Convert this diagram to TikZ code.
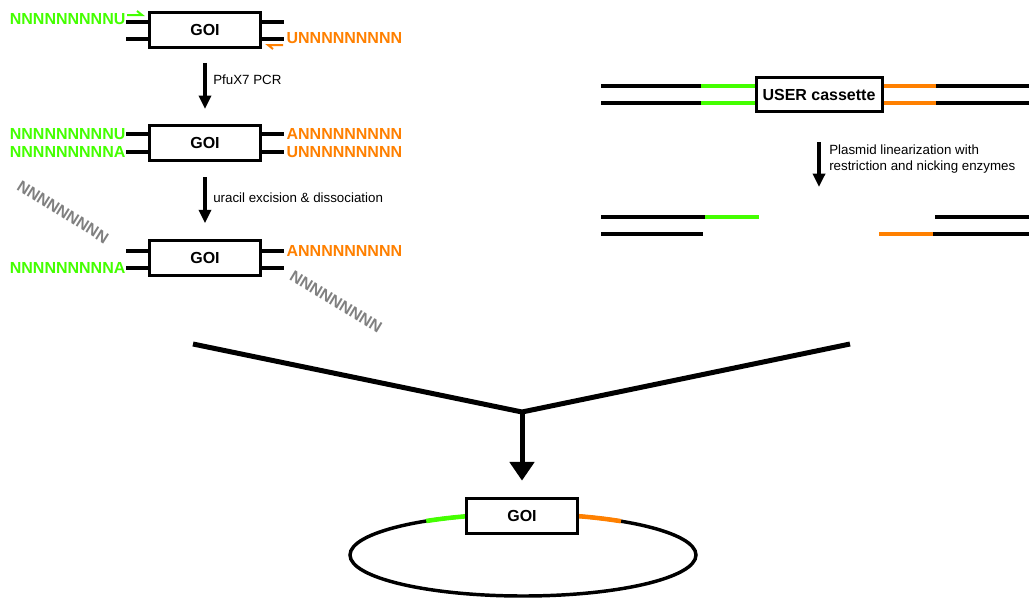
\documentclass[tikz,border=0pt]{standalone}
\usepackage{fontspec}
\setmainfont{Liberation Sans}
\usetikzlibrary{arrows.meta}
\definecolor{userGreen}{RGB}{68,255,0}
\definecolor{userOrange}{RGB}{255,128,0}
\definecolor{spentGray}{RGB}{128,128,128}
\tikzset{
  goibox/.style={draw, fill=white, line width=2.25pt, minimum width=83pt,
    minimum height=26pt, inner sep=0, font=\fontsize{12}{14}\selectfont\bfseries},
  strand/.style={line width=2.5pt},
  seq/.style={inner sep=1pt, font=\fontsize{12}{14}\selectfont\bfseries},
  note/.style={inner sep=0, font=\fontsize{10}{12}\selectfont, align=left},
  stepArrow/.style={line width=2.6pt, -{Triangle[width=9pt,length=10pt]}},
}

\begin{document}
\begin{tikzpicture}[x=0.75pt, y=-0.75pt]
  \useasboundingbox (0,0) rectangle (1029,597);

  % insert: PCR and uracil excision
  \node[goibox] (goiA) at (205,30) {GOI};
  \node[goibox] (goiB) at (205,143) {GOI};
  \node[goibox] (goiC) at (205,258) {GOI};

  \foreach \n/\ya/\yb in {goiA/22/39, goiB/134/152, goiC/251/268} {
    \draw[strand] (\n.west |- 0,\ya) -- ++(-22,0);
    \draw[strand] (\n.west |- 0,\yb) -- ++(-22,0);
    \draw[strand] (\n.east |- 0,\ya) -- ++(22,0);
    \draw[strand] (\n.east |- 0,\yb) -- ++(22,0);
  }

  \node[seq, text=userGreen, anchor=east] (priFwd) at (127,19) {NNNNNNNNNU};
  \node[seq, text=userOrange, anchor=west] (priRev) at (285,38) {UNNNNNNNNN};
  \draw[userGreen, line width=1.5pt] (127,15) -- (142,15) -- (137,11);
  \draw[userOrange, line width=1.5pt] (283,45) -- (268,45) -- (273,49);

  \node[seq, text=userGreen, anchor=east] (endB1) at (127,134) {NNNNNNNNNU};
  \node[seq, text=userGreen, anchor=east] (endB2) at (127,152) {NNNNNNNNNA};
  \node[seq, text=userOrange, anchor=west] (endB3) at (285,134) {ANNNNNNNNN};
  \node[seq, text=userOrange, anchor=west] (endB4) at (285,152) {UNNNNNNNNN};

  \node[seq, text=userGreen, anchor=east] (endC1) at (127,268) {NNNNNNNNNA};
  \node[seq, text=userOrange, anchor=west] (endC2) at (285,251) {ANNNNNNNNN};
  \node[seq, text=spentGray, rotate=-32] (lostL) at (63,212) {NNNNNNNNN};
  \node[seq, text=spentGray, rotate=-31] (lostR) at (336,302) {NNNNNNNNN};

  \draw[stepArrow, shorten <=10.5pt, shorten >=11.4pt] (goiA) -- (goiB);
  \node[note, anchor=west] (lblPcr) at (213,80) {PfuX7 PCR};
  \draw[stepArrow, shorten <=11.4pt, shorten >=12pt] (goiB) -- (goiC);
  \node[note, anchor=west] (lblUracil) at (213,198) {uracil excision \& dissociation};

  % vector: USER cassette
  \node[goibox, minimum width=94.5pt] (cassette) at (819,94.5) {USER cassette};
  \foreach \y in {86,103} {
    \draw[strand] (601,\y) -- (701,\y);
    \draw[strand, userGreen] (701,\y) -- (cassette.west |- 0,\y);
    \draw[strand, userOrange] (cassette.east |- 0,\y) -- (936,\y);
    \draw[strand] (936,\y) -- (1029,\y);
  }

  \coordinate (cut) at (819,187);
  \draw[stepArrow, shorten <=21.5pt] (cassette) -- (cut);
  \node[note, anchor=north west] (lblLin) at (829,144.5)
    {Plasmid linearization with\\restriction and nicking enzymes};

  \draw[strand] (601,217) -- (705,217);
  \draw[strand, userGreen] (705,217) -- (759,217);
  \draw[strand] (935,217) -- (1029,217);
  \draw[strand] (601,234) -- (703,234);
  \draw[strand, userOrange] (879,234) -- (933,234);
  \draw[strand] (933,234) -- (1029,234);

  % merge and plasmid
  \coordinate (mergeL) at (193,344);
  \coordinate (merge) at (522,412);
  \coordinate (mergeR) at (850,344);
  \draw[line width=3.75pt] (mergeL) -- (merge) -- (mergeR);

  \draw[line width=2.6pt] (523,555) ellipse [x radius=173, y radius=41];
  \draw[line width=3.4pt, userGreen] (523,555) ++(236:173 and 41)
    arc[start angle=236, end angle=253, x radius=173, y radius=41];
  \draw[line width=3.4pt, userOrange] (523,555) ++(287:173 and 41)
    arc[start angle=287, end angle=304.5, x radius=173, y radius=41];
  \node[goibox] (goiD) at (522,516) {GOI};

  \draw[line width=3.75pt, -{Triangle[width=18pt,length=14pt]},
    shorten >=12.4pt] (merge) -- (goiD);
\end{tikzpicture}
\end{document}
